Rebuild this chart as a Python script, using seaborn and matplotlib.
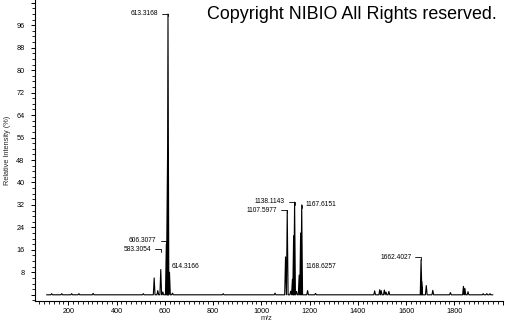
import numpy as np
import pandas as pd
import seaborn as sns
import matplotlib
matplotlib.use("Agg")
import matplotlib.pyplot as plt
from matplotlib.ticker import MultipleLocator, FixedLocator, FixedFormatter

# ---------------- data ----------------
scan_start = 110
scan_end = 1960
peak_mz = [131, 173, 214, 244, 303, 511, 556, 571, 583.3, 592, 606.3, 611.5,
           613.3, 619.5, 632, 842, 1057, 1100.5, 1107.6, 1122, 1129, 1134,
           1138.1, 1146, 1157, 1163, 1167.6, 1192, 1225, 1470, 1491, 1497,
           1510, 1517, 1529, 1662.4, 1665, 1684, 1711, 1784, 1838, 1844,
           1857, 1920, 1935, 1948]
peak_int = [0.4, 0.4, 0.4, 0.4, 0.5, 0.4, 6, 1.5, 9, 1, 18, 51,
            100, 8, 0.6, 0.4, 0.6, 13.5, 30, 1.3, 5.5, 21,
            33, 1.2, 7, 22, 32, 1.5, 0.5, 1.4, 1.8, 1.5,
            1.7, 1.0, 1.2, 12.5, 4.8, 3.3, 1.6, 0.8, 3.0, 2.3,
            1.1, 0.4, 0.4, 0.4]

label_mz = [613.3168, 606.3077, 583.3054, 614.3166, 1107.5977, 1138.1143,
            1167.6151, 1168.6257, 1662.4027]
label_h = [99.2, 18.3, 15.3, 10.0, 29.2, 32.1, 31.0, 10.2, 12.3]
label_side = ["L", "L", "L", "S", "L", "L", "R", "S", "L"]

x_ticks = [200, 400, 600, 800, 1000, 1200, 1400, 1600, 1800, 2000]
x_ticklabels = ["200", "400", "600", "800", "1000", "1200", "1400", "1600", "1800", ""]
y_ticks = [0, 8, 16, 24, 32, 40, 48, 56, 64, 72, 80, 88, 96, 104]
y_ticklabels = ["", "8", "16", "24", "32", "40", "48", "56", "64", "72", "80", "88", "96", ""]

# ---------------- build profile from the peak list ----------------
half_w = 3.5
px, py = [scan_start], [0.0]
for m, h in sorted(zip(peak_mz, peak_int)):
    px += [m - half_w, m, m + half_w]
    py += [0.0, h, 0.0]
px.append(scan_end)
py.append(0.0)
df = pd.DataFrame({"mz": px, "intensity": py})

# ---------------- plotting ----------------
sns.set_theme(style="ticks")
plt.rcParams["font.family"] = ["Liberation Sans", "DejaVu Sans"]

fig = plt.figure(figsize=(5.05, 3.25), dpi=100)
ax = fig.add_axes([35 / 505, 1 - 300.7 / 325, 468 / 505, 300.7 / 325])

sns.lineplot(data=df, x="mz", y="intensity", sort=False, estimator=None,
             color="black", linewidth=0.8, ax=ax)

ax.set_xlim(62, 2002)
ax.set_ylim(-2.1, 105)

for s in ["top", "right"]:
    ax.spines[s].set_visible(False)
for s in ["left", "bottom"]:
    ax.spines[s].set_linewidth(0.8)
    ax.spines[s].set_color("black")

ax.xaxis.set_major_locator(FixedLocator(x_ticks))
ax.xaxis.set_major_formatter(FixedFormatter(x_ticklabels))
ax.xaxis.set_minor_locator(MultipleLocator(20))
ax.yaxis.set_major_locator(FixedLocator(y_ticks))
ax.yaxis.set_major_formatter(FixedFormatter(y_ticklabels))
ax.yaxis.set_minor_locator(MultipleLocator(2))

ax.tick_params(axis="x", which="major", length=3, width=0.7, pad=2.5,
               labelsize=5.2, colors="black", direction="out")
ax.tick_params(axis="x", which="minor", length=2, width=0.6, direction="out", colors="black")
ax.tick_params(axis="y", which="major", length=3, width=0.7, pad=4.5,
               labelsize=5.2, colors="black", direction="out")
ax.tick_params(axis="y", which="minor", length=2, width=0.6, direction="out", colors="black")

ax.set_xlabel("m/z", fontsize=5.3)
ax.set_ylabel("Relative Intensity (%)", fontsize=5.3)
ax.xaxis.set_label_coords(0.494, -0.048)
ax.yaxis.set_label_coords(-0.052, 0.5)

for m, h, side in zip(label_mz, label_h, label_side):
    txt = f"{m:.4f}"
    if side == "L":
        ax.annotate(txt, xy=(m, h), xytext=(-7, 2), textcoords="offset points",
                    ha="right", va="center", fontsize=4.8, color="black",
                    arrowprops=dict(arrowstyle="-", lw=0.6, color="black",
                                    shrinkA=0.5, shrinkB=0,
                                    connectionstyle="angle,angleA=0,angleB=90,rad=0"))
    elif side == "R":
        ax.annotate(txt, xy=(m, h), xytext=(3, 2), textcoords="offset points",
                    ha="left", va="center", fontsize=4.8, color="black",
                    arrowprops=dict(arrowstyle="-", lw=0.6, color="black",
                                    shrinkA=0.5, shrinkB=0,
                                    connectionstyle="angle,angleA=0,angleB=90,rad=0"))
    else:
        ax.annotate(txt, xy=(m, h), xytext=(2.5, 0), textcoords="offset points",
                    ha="left", va="center", fontsize=4.8, color="black",
                    arrowprops=dict(arrowstyle="-", lw=0.6, color="black",
                                    shrinkA=0.5, shrinkB=0))

fig.text(207 / 505, 1 - 19 / 325, "Copyright NIBIO All Rights reserved.",
         fontsize=12.9, ha="left", va="baseline", color="black")

fig.savefig("out.png", dpi=100, facecolor="white")
